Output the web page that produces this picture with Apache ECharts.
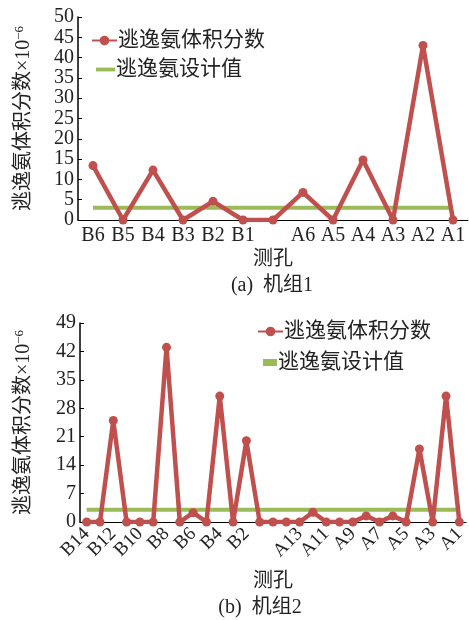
<!DOCTYPE html>
<html>
<head>
<meta charset="utf-8">
<script src="https://cdn.jsdelivr.net/npm/echarts@6/dist/echarts.min.js"></script>
<style>
  html, body { margin: 0; padding: 0; background: #fff; }
  #chart { width: 469px; height: 620px; }
</style>
</head>
<body>
<div id="chart"></div>
<script>
// Unit 1 measuring holes and ammonia slip (×10^-6)
const unit1Holes = ['B6', 'B5', 'B4', 'B3', 'B2', 'B1', '', 'A6', 'A5', 'A4', 'A3', 'A2', 'A1'];
const unit1Slip = [13.4, 0, 12.3, 0, 4.6, 0, 0, 6.8, 0, 14.8, 0, 43, 0];
const unit1Design = [3, 3, 3, 3, 3, 3, 3, 3, 3, 3, 3, 3, 3];

// Unit 2 measuring holes and ammonia slip (×10^-6)
const unit2Holes = ['B14', 'B13', 'B12', 'B11', 'B10', 'B9', 'B8', 'B7', 'B6', 'B5', 'B4', 'B3', 'B2', 'B1', '',
  'A14', 'A13', 'A12', 'A11', 'A10', 'A9', 'A8', 'A7', 'A6', 'A5', 'A4', 'A3', 'A2', 'A1'];
const unit2Slip = [0, 0, 25, 0, 0, 0, 43, 0, 2.3, 0, 31, 0, 20, 0, 0,
  0, 0, 2.4, 0, 0, 0, 1.5, 0, 1.5, 0, 18, 0, 31, 0];
const unit2Design = [3, 3, 3, 3, 3, 3, 3, 3, 3, 3, 3, 3, 3, 3, 3,
  3, 3, 3, 3, 3, 3, 3, 3, 3, 3, 3, 3, 3, 3];

const SLIP_NAME = '逃逸氨体积分数';
const DESIGN_NAME = '逃逸氨设计值';
const RED = '#c0504d';
const GREEN = '#9bbb59';
const FONT = '"Liberation Serif", "Noto Sans CJK SC", serif';
const TEXT = '#222';

const yName = {
  name: '逃逸氨体积分数×10{sup|−6}',
  nameLocation: 'middle',
  nameRotate: 90,
  nameTextStyle: {
    fontFamily: FONT, fontSize: 20, color: TEXT, lineHeight: 22,
    rich: { sup: { fontFamily: FONT, fontSize: 13, color: TEXT, verticalAlign: 'top', lineHeight: 22 } }
  }
};

function yAxis(gridIndex, max, interval, gap) {
  return Object.assign({
    gridIndex, type: 'value', min: 0, max, interval, nameGap: gap,
    axisLine: { show: true, lineStyle: { color: '#000', width: 1.5 } },
    axisTick: { show: true, inside: true, length: 4, lineStyle: { color: '#000' } },
    splitLine: { show: false },
    axisLabel: { fontFamily: FONT, fontSize: 20, color: TEXT, margin: 4 }
  }, yName);
}

function xAxis(gridIndex, data, labelOpts, gap) {
  return {
    gridIndex, type: 'category', data, boundaryGap: true,
    name: '测孔', nameLocation: 'middle', nameGap: gap,
    nameTextStyle: { fontFamily: FONT, fontSize: 20, color: TEXT },
    axisLine: { show: true, onZero: false, lineStyle: { color: '#000', width: 1 } },
    axisTick: { show: false },
    axisLabel: Object.assign({ fontFamily: FONT, fontSize: 20, color: TEXT }, labelOpts)
  };
}

function slipSeries(idx, data) {
  return {
    name: SLIP_NAME, type: 'line', xAxisIndex: idx, yAxisIndex: idx, data,
    symbol: 'circle', symbolSize: 9, showAllSymbol: true, color: RED,
    lineStyle: { color: RED, width: 4.5 }, itemStyle: { color: RED },
    z: 3, silent: true, animation: false
  };
}

function designSeries(idx, data) {
  return {
    name: DESIGN_NAME, type: 'line', xAxisIndex: idx, yAxisIndex: idx, data,
    symbol: 'none', color: GREEN,
    lineStyle: { color: GREEN, width: 4 }, itemStyle: { color: GREEN },
    z: 2, silent: true, animation: false
  };
}

function legendItem(name, left, top, w, h, icon) {
  return {
    data: [icon ? { name, icon } : name], left, top, orient: 'vertical',
    itemWidth: w, itemHeight: h, itemGap: 4, selectedMode: false, padding: 0,
    textStyle: { fontFamily: FONT, fontSize: 21, color: TEXT, padding: [0, 0, 0, -4] }
  };
}

const chart = echarts.init(document.getElementById('chart'), null, { renderer: 'canvas' });
chart.setOption({
  animation: false,
  backgroundColor: '#fff',
  grid: [
    { left: 78, top: 17, width: 390, height: 203, outerBoundsMode: 'none' },
    { left: 80, top: 323, width: 386, height: 199, outerBoundsMode: 'none' }
  ],
  xAxis: [
    xAxis(0, unit1Holes, { interval: 0, margin: 6 }, 30),
    xAxis(1, unit2Holes, { interval: 1, rotate: 45, margin: 9, fontSize: 19 }, 50)
  ],
  yAxis: [
    yAxis(0, 50, 5, 43),
    yAxis(1, 49, 7, 45)
  ],
  legend: [
    legendItem(SLIP_NAME, 91, 30, 25, 12),
    legendItem(DESIGN_NAME, 96, 59, 19, 12, 'path://M0,4 h20 v4 h-20 z'),
    legendItem(SLIP_NAME, 257, 321, 25, 12),
    legendItem(DESIGN_NAME, 263, 352, 14, 7, 'rect')
  ],
  series: [
    designSeries(0, unit1Design),
    slipSeries(0, unit1Slip),
    designSeries(1, unit2Design),
    slipSeries(1, unit2Slip)
  ],
  graphic: [
    { type: 'text', x: 272, y: 286, style: { text: '(a)  机组1', fontFamily: FONT, fontSize: 20, fill: TEXT, align: 'center', verticalAlign: 'middle' } },
    { type: 'text', x: 260, y: 608, style: { text: '(b)  机组2', fontFamily: FONT, fontSize: 20, fill: TEXT, align: 'center', verticalAlign: 'middle' } }
  ]
});
</script>
</body>
</html>
